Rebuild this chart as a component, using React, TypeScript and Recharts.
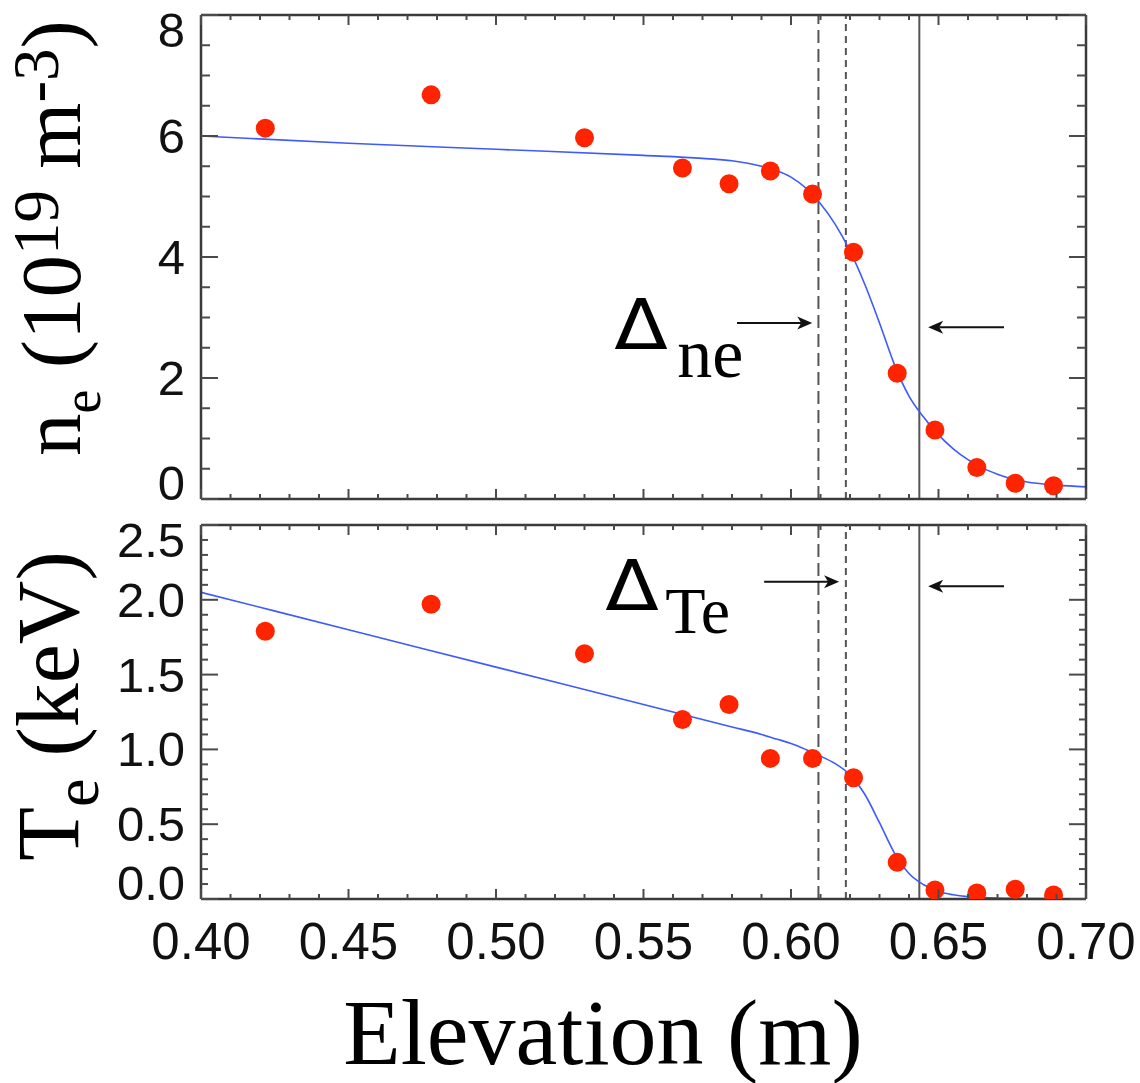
import React from 'react';
import { ComposedChart, XAxis, YAxis, Line, Scatter, ReferenceLine, ReferenceDot } from 'recharts';

// ---------- data ----------
const elevation = [0.4218, 0.478, 0.530, 0.5632, 0.579, 0.593, 0.6073, 0.6212, 0.636, 0.6488, 0.663, 0.676, 0.689];
const neMeasured = [6.13, 6.68, 5.97, 5.47, 5.21, 5.42, 5.04, 4.08, 2.08, 1.14, 0.52, 0.26, 0.22];
const teMeasured = [1.79, 1.97, 1.64, 1.20, 1.30, 0.94, 0.94, 0.81, 0.245, 0.06, 0.04, 0.065, 0.027];

const fitElevation = [0.40, 0.45, 0.50, 0.55, 0.57, 0.58, 0.59, 0.595, 0.60, 0.605, 0.61, 0.615, 0.62, 0.625, 0.63, 0.635, 0.64, 0.645, 0.65, 0.655, 0.66, 0.665, 0.67, 0.675, 0.68, 0.69, 0.70];
const neFit = [6.00, 5.88, 5.78, 5.68, 5.63, 5.59, 5.50, 5.43, 5.32, 5.14, 4.88, 4.54, 4.10, 3.55, 2.91, 2.23, 1.70, 1.35, 1.06, 0.83, 0.65, 0.51, 0.41, 0.33, 0.28, 0.23, 0.20];
const teFit = [2.05, 1.80, 1.55, 1.30, 1.20, 1.15, 1.10, 1.07, 1.04, 1.00, 0.955, 0.905, 0.83, 0.70, 0.51, 0.31, 0.17, 0.095, 0.05, 0.028, 0.016, 0.01, 0.006, 0.004, 0.003, 0.002, 0.002];

// vertical marker lines (elevation, m)
const longDashX = 0.6093;
const shortDashX = 0.6186;
const solidX = 0.6435;

// ticks
const xTicks = [0.40, 0.41, 0.42, 0.43, 0.44, 0.45, 0.46, 0.47, 0.48, 0.49, 0.50, 0.51, 0.52, 0.53, 0.54, 0.55, 0.56, 0.57, 0.58, 0.59, 0.60, 0.61, 0.62, 0.63, 0.64, 0.65, 0.66, 0.67, 0.68, 0.69, 0.70];
const xMajor = [0.40, 0.45, 0.50, 0.55, 0.60, 0.65, 0.70];
const neTicks = [0, 0.5, 1, 1.5, 2, 2.5, 3, 3.5, 4, 4.5, 5, 5.5, 6, 6.5, 7, 7.5, 8];
const neMajor = [0, 2, 4, 6, 8];
const teTicks = [0, 0.1, 0.2, 0.3, 0.4, 0.5, 0.6, 0.7, 0.8, 0.9, 1.0, 1.1, 1.2, 1.3, 1.4, 1.5, 1.6, 1.7, 1.8, 1.9, 2.0, 2.1, 2.2, 2.3, 2.4, 2.5];
const teMajor = [0, 0.5, 1.0, 1.5, 2.0, 2.5];

// annotation anchors (data coords)
const neArrowIn = [{ x: 0.5817, y: 2.91 }, { x: 0.6072, y: 2.91 }];
const neArrowOut = [{ x: 0.6722, y: 2.84 }, { x: 0.6465, y: 2.84 }];
const teArrowIn = [{ x: 0.5909, y: 2.12 }, { x: 0.6163, y: 2.12 }];
const teArrowOut = [{ x: 0.6722, y: 2.09 }, { x: 0.6465, y: 2.09 }];
const neDeltaAt = { x: 0.5401, y: 2.48 };
const teDeltaAt = { x: 0.537, y: 1.93 };

const nePoints = elevation.map((x, i) => ({ x, y: neMeasured[i] }));
const tePoints = elevation.map((x, i) => ({ x, y: teMeasured[i] }));
const neFitLine = fitElevation.map((x, i) => ({ x, y: neFit[i] }));
const teFitLine = fitElevation.map((x, i) => ({ x, y: teFit[i] }));

// ---------- styling ----------
const SERIF = '"Liberation Serif", "Times New Roman", serif';
const SANS = '"Liberation Sans", Arial, Helvetica, sans-serif';
const AXIS = '#3a3a3a';
const TICK = '#4a4a4a';
const DOT = '#ff2400';
const FIT = '#3d5afe';
const VLINE = '#555555';

const isMajor = (v: number, majors: number[]) => majors.some((m) => Math.abs(m - v) < 1e-6);

const makeXTick = (side: 'top' | 'bottom', labels: boolean) => (props: any) => {
  const { x, y, payload } = props;
  const v = Number(payload.value);
  const maj = isMajor(v, xMajor);
  const len = maj ? 10 : 5;
  const y2 = side === 'bottom' ? y - len : y + len;
  return (
    <g>
      <line x1={x} x2={x} y1={y} y2={y2} stroke={TICK} strokeWidth={2} />
      {labels && maj && (
        <text x={x} y={y + 60} textAnchor="middle" fontFamily={SANS} fontSize={51} fill="#111">
          {v.toFixed(2)}
        </text>
      )}
    </g>
  );
};

const makeYTick = (
  side: 'left' | 'right',
  majors: number[],
  labels: boolean,
  dmin: number,
  dmax: number,
  digits: number,
  majLen: number,
  minLen: number
) => (props: any) => {
  const { x, y, payload } = props;
  const v = Number(payload.value);
  const maj = isMajor(v, majors);
  const len = maj ? majLen : minLen;
  const x2 = side === 'left' ? x + len : x - len;
  let ly = y + 17;
  if (Math.abs(v - dmax) < 1e-6) ly += 15;
  if (Math.abs(v - dmin) < 1e-6) ly -= 16;
  return (
    <g>
      <line x1={x} x2={x2} y1={y} y2={y} stroke={TICK} strokeWidth={2} />
      {labels && maj && (
        <text x={x - 16} y={ly} textAnchor="end" fontFamily={SANS} fontSize={49} fill="#111">
          {v.toFixed(digits)}
        </text>
      )}
    </g>
  );
};

const RedDot = (props: any) => {
  const { cx, cy } = props;
  if (cx == null || cy == null) return null;
  return <circle cx={cx} cy={cy} r={9.5} fill={DOT} />;
};

const ArrowShape = (p: any) => {
  const { x1, y1, x2, y2 } = p;
  const dx = x2 - x1;
  const dy = y2 - y1;
  const L = Math.hypot(dx, dy) || 1;
  const ux = dx / L;
  const uy = dy / L;
  const hl = 15;
  const hw = 6.5;
  const notch = 4;
  const bx = x2 - ux * hl;
  const by = y2 - uy * hl;
  const px = -uy;
  const py = ux;
  const nx = x2 - ux * (hl - notch);
  const ny = y2 - uy * (hl - notch);
  const pts = `${x2},${y2} ${bx + px * hw},${by + py * hw} ${nx},${ny} ${bx - px * hw},${by - py * hw}`;
  return (
    <g>
      <line x1={x1} y1={y1} x2={nx} y2={ny} stroke="#111" strokeWidth={2} />
      <polygon points={pts} fill="#111" />
    </g>
  );
};

const DeltaLabel = (sub: string, subDx: number, subDy: number, subSize: number) => (p: any) => {
  const { cx, cy } = p;
  if (cx == null || cy == null) return null;
  return (
    <g>
      <text x={cx} y={cy} fontFamily='"DejaVu Sans", sans-serif' fontSize={70} fill="#000"
        transform={`translate(${cx},${cy}) scale(1.12,1) translate(${-cx},${-cy})`}>
        Δ
      </text>
      <text x={cx + subDx} y={cy + subDy} fontFamily={SERIF} fontSize={subSize} fill="#000">
        {sub}
      </text>
    </g>
  );
};

const NeTitle = () => (
  <text transform="translate(80,238) rotate(-90)" textAnchor="middle" fontFamily={SERIF} fontSize={85} fill="#000">
    <tspan>n</tspan>
    <tspan fontSize={54} dy={20}>e</tspan>
    <tspan dy={-20}> (10</tspan>
    <tspan fontSize={65} dy={-22}>19</tspan>
    <tspan dy={22}> m</tspan>
    <tspan fontSize={65} dy={-22}>-3</tspan>
    <tspan dy={22}>)</tspan>
  </text>
);

// second chart starts at page y = 500
const TeTitle = () => (
  <text transform="translate(78,206) rotate(-90)" textAnchor="middle" fontFamily={SERIF} fontSize={88} fill="#000">
    <tspan>T</tspan>
    <tspan fontSize={64} dy={20}>e</tspan>
    <tspan dy={-20}> (keV)</tspan>
  </text>
);

const XTitle = () => (
  <text x={603} y={564} textAnchor="middle" fontFamily={SERIF} fontSize={94} fill="#000">
    Elevation (m)
  </text>
);

const axisLine = { stroke: AXIS, strokeWidth: 2.5 };

export default function App() {
  return (
    <div style={{ position: 'absolute', left: 0, top: 0, width: 1140, height: 1083, background: '#fff', overflow: 'hidden' }}>
      <div style={{ position: 'absolute', left: 0, top: 0 }}>
        <ComposedChart width={1140} height={520} margin={{ top: 0, right: 0, bottom: 0, left: 0 }}>
          <XAxis xAxisId="b" dataKey="x" type="number" domain={[0.4, 0.7]} ticks={xTicks} interval={0}
            tickSize={0} tickMargin={0} tickLine={false} axisLine={axisLine} tick={makeXTick('bottom', false)}
            height={21} allowDataOverflow />
          <XAxis xAxisId="t" orientation="top" dataKey="x" type="number" domain={[0.4, 0.7]} ticks={xTicks} interval={0}
            tickSize={0} tickMargin={0} tickLine={false} axisLine={axisLine} tick={makeXTick('top', false)}
            height={15} allowDataOverflow />
          <YAxis yAxisId="l" dataKey="y" type="number" domain={[0, 8]} ticks={neTicks} interval={0}
            tickSize={0} tickMargin={0} tickLine={false} axisLine={axisLine}
            tick={makeYTick('left', neMajor, true, 0, 8, 0, 17, 9)} width={201} allowDataOverflow
            label={{ content: NeTitle }} />
          <YAxis yAxisId="r" orientation="right" dataKey="y" type="number" domain={[0, 8]} ticks={neTicks} interval={0}
            tickSize={0} tickMargin={0} tickLine={false} axisLine={axisLine}
            tick={makeYTick('right', neMajor, false, 0, 8, 0, 17, 9)} width={54} allowDataOverflow />
          <ReferenceLine xAxisId="b" yAxisId="l" x={longDashX} stroke={VLINE} strokeWidth={2} strokeDasharray="13 6" />
          <ReferenceLine xAxisId="b" yAxisId="l" x={shortDashX} stroke={VLINE} strokeWidth={2} strokeDasharray="7 5" />
          <ReferenceLine xAxisId="b" yAxisId="l" x={solidX} stroke={VLINE} strokeWidth={2} />
          <ReferenceLine xAxisId="b" yAxisId="l" segment={neArrowIn} shape={ArrowShape} ifOverflow="visible" />
          <ReferenceLine xAxisId="b" yAxisId="l" segment={neArrowOut} shape={ArrowShape} ifOverflow="visible" />
          <Line xAxisId="b" yAxisId="l" data={neFitLine} dataKey="y" type="monotone" stroke={FIT} strokeWidth={1.6}
            dot={false} activeDot={false} isAnimationActive={false} />
          <Scatter xAxisId="b" yAxisId="l" data={nePoints} dataKey="y" shape={RedDot} isAnimationActive={false} />
          <ReferenceDot xAxisId="b" yAxisId="l" x={neDeltaAt.x} y={neDeltaAt.y} r={0} ifOverflow="visible"
            shape={DeltaLabel('ne', 63, 28, 70)} />
        </ComposedChart>
      </div>
      <div style={{ position: 'absolute', left: 0, top: 500 }}>
        <ComposedChart width={1140} height={583} margin={{ top: 0, right: 0, bottom: 0, left: 0 }}>
          <XAxis xAxisId="b" dataKey="x" type="number" domain={[0.4, 0.7]} ticks={xTicks} interval={0}
            tickSize={0} tickMargin={0} tickLine={false} axisLine={axisLine} tick={makeXTick('bottom', true)}
            height={184} allowDataOverflow label={{ content: XTitle }} />
          <XAxis xAxisId="t" orientation="top" dataKey="x" type="number" domain={[0.4, 0.7]} ticks={xTicks} interval={0}
            tickSize={0} tickMargin={0} tickLine={false} axisLine={axisLine} tick={makeXTick('top', false)}
            height={25} allowDataOverflow />
          <YAxis yAxisId="l" dataKey="y" type="number" domain={[0, 2.5]} ticks={teTicks} interval={0}
            tickSize={0} tickMargin={0} tickLine={false} axisLine={axisLine}
            tick={makeYTick('left', teMajor, true, 0, 2.5, 1, 17, 7)} width={201} allowDataOverflow
            label={{ content: TeTitle }} />
          <YAxis yAxisId="r" orientation="right" dataKey="y" type="number" domain={[0, 2.5]} ticks={teTicks} interval={0}
            tickSize={0} tickMargin={0} tickLine={false} axisLine={axisLine}
            tick={makeYTick('right', teMajor, false, 0, 2.5, 1, 17, 7)} width={54} allowDataOverflow />
          <ReferenceLine xAxisId="b" yAxisId="l" x={longDashX} stroke={VLINE} strokeWidth={2} strokeDasharray="13 6" />
          <ReferenceLine xAxisId="b" yAxisId="l" x={shortDashX} stroke={VLINE} strokeWidth={2} strokeDasharray="7 5" />
          <ReferenceLine xAxisId="b" yAxisId="l" x={solidX} stroke={VLINE} strokeWidth={2} />
          <ReferenceLine xAxisId="b" yAxisId="l" segment={teArrowIn} shape={ArrowShape} ifOverflow="visible" />
          <ReferenceLine xAxisId="b" yAxisId="l" segment={teArrowOut} shape={ArrowShape} ifOverflow="visible" />
          <Line xAxisId="b" yAxisId="l" data={teFitLine} dataKey="y" type="monotone" stroke={FIT} strokeWidth={1.6}
            dot={false} activeDot={false} isAnimationActive={false} />
          <Scatter xAxisId="b" yAxisId="l" data={tePoints} dataKey="y" shape={RedDot} isAnimationActive={false} />
          <ReferenceDot xAxisId="b" yAxisId="l" x={teDeltaAt.x} y={teDeltaAt.y} r={0} ifOverflow="visible"
            shape={DeltaLabel('Te', 60, 23, 66)} />
        </ComposedChart>
      </div>
    </div>
  );
}
